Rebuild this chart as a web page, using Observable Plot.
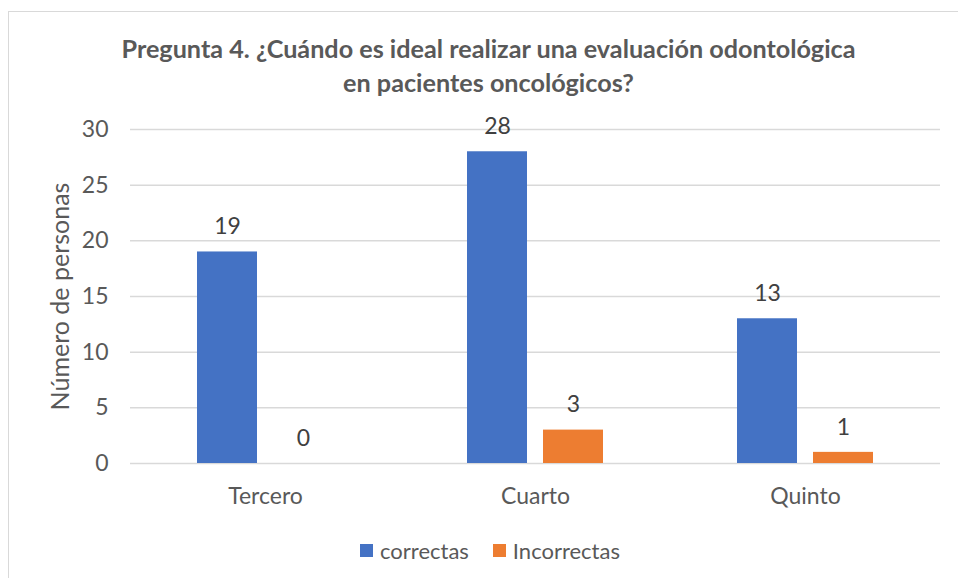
<!DOCTYPE html>
<html>
<head>
<meta charset="utf-8">
<script src="https://cdn.jsdelivr.net/npm/d3@7"></script>
<script src="https://cdn.jsdelivr.net/npm/@observablehq/plot@0.6"></script>
<style>
  html, body { margin: 0; padding: 0; background: #fff; }
  #wrap { position: relative; width: 958px; height: 578px; overflow: hidden; font-family: Lato, sans-serif; }
  #frame { position: absolute; left: 8px; top: 11px; width: 1000px; height: 600px; border-left: 1.5px solid #d9d9d9; border-top: 1.5px solid #d9d9d9; }
  #title { position: absolute; left: 0; width: 977px; top: 31px; text-align: center; font-weight: bold; font-size: 25.2px; line-height: 34px; color: #595959; }
  #chart svg { position: absolute; left: 0; top: 100px; }
  #legend { position: absolute; left: 0; width: 980px; top: 535px; text-align: center; font-size: 22px; color: #595959; line-height: 28px; }
  .item { display: inline-flex; align-items: center; margin: 0 12px; }
  .sw { display: inline-block; width: 13px; height: 13px; margin-right: 7px; }
</style>
</head>
<body>
<div id="wrap">
  <div id="frame"></div>
  <div id="title">Pregunta 4. ¿Cuándo es ideal realizar una evaluación odontológica<br>en pacientes oncológicos?</div>
  <div id="chart"></div>
  <div id="legend"></div>
</div>
<script>
const categories = ["Tercero", "Cuarto", "Quinto"];
const series = ["correctas", "Incorrectas"];
const correctas = [19, 28, 13];
const incorrectas = [0, 3, 1];
const yTicks = [0, 5, 10, 15, 20, 25, 30];
const colors = ["#4472C4", "#ED7D31"];

const data = categories.flatMap((c, i) => [
  {cat: c, serie: series[0], value: correctas[i]},
  {cat: c, serie: series[1], value: incorrectas[i]}
]);

const font = "Lato, sans-serif";
const chart = Plot.plot({
  width: 958,
  height: 420,
  marginTop: 29,
  marginBottom: 57,
  marginLeft: 129,
  marginRight: 18,
  style: {fontFamily: font, fontSize: "23px", color: "#595959", background: "transparent", overflow: "visible"},
  fx: {domain: categories, padding: 0, label: null, tickSize: 0, tickPadding: 24, axis: "bottom"},
  x: {domain: series, paddingInner: 0.209, paddingOuter: 0.866, axis: null},
  y: {domain: [0, 30], ticks: yTicks, tickSize: 0, tickPadding: 22, label: "Número de personas", labelAnchor: "center", labelOffset: 79, labelArrow: "none"},
  color: {domain: series, range: colors},
  marks: [
    Plot.ruleY(yTicks, {stroke: "#d9d9d9", strokeWidth: 1.5}),
    Plot.barY(data, {fx: "cat", x: "serie", y: "value", fill: "serie"}),
    Plot.text(data, {fx: "cat", x: "serie", y: "value", text: d => String(d.value), dy: -25, fill: "#404040", fontSize: 23})
  ]
});
document.getElementById("chart").appendChild(chart);
// enlarge the y-axis title slightly (Calibri-sized)
chart.querySelectorAll("text").forEach(t => {
  if (t.textContent.trim() === "Número de personas") t.style.fontSize = "25px";
});

const legend = document.getElementById("legend");
series.forEach((s, i) => {
  const it = document.createElement("span");
  it.className = "item";
  it.innerHTML = `<span class="sw" style="background:${colors[i]}"></span>${s}`;
  legend.appendChild(it);
});
</script>
</body>
</html>
